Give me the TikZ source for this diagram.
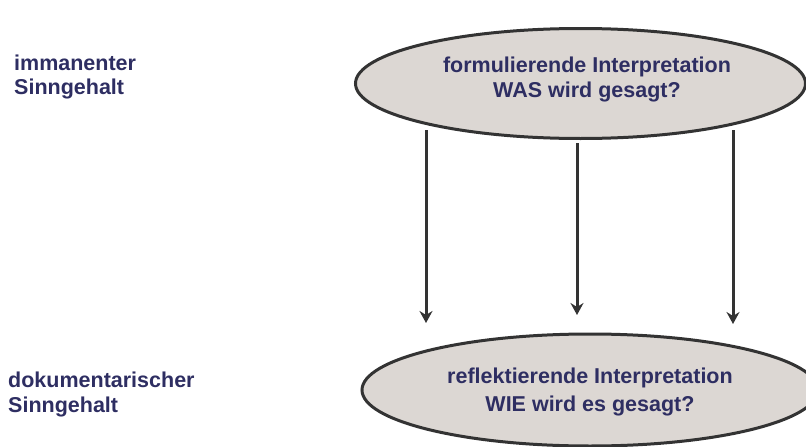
\documentclass[tikz,border=0pt]{standalone}
\usepackage{fontspec}
\setmainfont{Liberation Sans}
\usetikzlibrary{shapes.geometric,arrows.meta}
\definecolor{txt}{HTML}{2E2E62}
\definecolor{ellfill}{HTML}{DCD7D3}
\definecolor{edge}{HTML}{333333}
\begin{document}
\begin{tikzpicture}[x=1pt,y=-1pt,
  oval/.style={ellipse,draw=edge,fill=ellfill,line width=3pt,inner sep=0pt},
  ovaltext/.style={text=txt,font=\bfseries\fontsize{21.5}{25}\selectfont,align=center},
  side/.style={text=txt,font=\bfseries\fontsize{21.5}{24.5}\selectfont,align=left,anchor=north west,inner sep=0pt},
  conn/.style={draw=edge,line width=3pt,-{Stealth[length=12pt,width=13pt,inset=4pt]}}]
\useasboundingbox (0,0) rectangle (806,447);
\begin{scope}
\clip (0,0) rectangle (806,447);
\node[oval,minimum width=450,minimum height=110] (top) at (580.5,83.5) {};
\node[oval,minimum width=456,minimum height=112] (bot) at (590,390) {};
\end{scope}
\node[ovaltext] (toptext) at (587,79) {formulierende Interpretation\\WAS wird gesagt?};
\node[ovaltext,font=\bfseries\fontsize{21.5}{27.5}\selectfont] (bottext) at (590,392) {reflektierende Interpretation\\WIE wird es gesagt?};
\node[side] (imm) at (14,54.5) {immanenter\\Sinngehalt};
\node[side] (dok) at (8,372) {dokumentarischer\\Sinngehalt};
\coordinate (a1) at (426,130); \coordinate (b1) at (426,323);
\coordinate (a2) at (577,143); \coordinate (b2) at (577,315);
\coordinate (a3) at (733,130); \coordinate (b3) at (733,324);
\draw[conn] (a1) -- (b1);
\draw[conn] (a2) -- (b2);
\draw[conn] (a3) -- (b3);
\end{tikzpicture}
\end{document}
